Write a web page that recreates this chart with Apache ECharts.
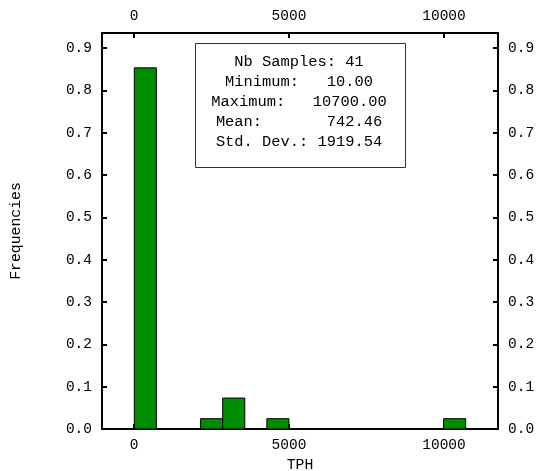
<!DOCTYPE html>
<html>
<head>
<meta charset="utf-8">
<script src="https://cdn.jsdelivr.net/npm/echarts@6/dist/echarts.min.js"></script>
<style>
  html, body { margin: 0; padding: 0; background: #fff; }
  #chart { width: 536px; height: 471px; }
</style>
</head>
<body>
<div id="chart"></div>
<script>
// Histogram of TPH values: 15 equal-width bins between the sample min and max
const sampleCount = 41;
const sampleMin = 10.0;
const sampleMax = 10700.0;
const sampleMean = 742.46;
const sampleStdDev = 1919.54;
const binCounts = [35, 0, 0, 1, 3, 0, 1, 0, 0, 0, 0, 0, 0, 0, 1];
const xTicks = [0, 5000, 10000];
const yTicks = [0, 0.1, 0.2, 0.3, 0.4, 0.5, 0.6, 0.7, 0.8, 0.9];

const binWidth = (sampleMax - sampleMin) / binCounts.length;
const bins = [];
binCounts.forEach((c, i) => {
  if (c > 0) {
    bins.push([sampleMin + i * binWidth, sampleMin + (i + 1) * binWidth, c / sampleCount]);
  }
});

const FONT = 'Liberation Mono';
const axisLine = { show: true, onZero: false, lineStyle: { color: '#000', width: 2 } };
const axisTick = { show: true, inside: true, length: 5, lineStyle: { color: '#000', width: 2 } };

function xAxisDef(pos, extra) {
  return Object.assign({
    type: 'value', position: pos, min: -1032, max: 11742,
    axisLine: axisLine,
    axisTick: Object.assign({ customValues: xTicks }, axisTick),
    axisLabel: { customValues: xTicks, color: '#000', fontFamily: FONT, fontSize: 14.5, margin: 9,
                 formatter: v => String(v) },
    splitLine: { show: false }
  }, extra || {});
}
function yAxisDef(pos, extra) {
  return Object.assign({
    type: 'value', position: pos, min: 0, max: 0.936,
    axisLine: axisLine,
    axisTick: Object.assign({ customValues: yTicks }, axisTick),
    axisLabel: { customValues: yTicks, color: '#000', fontFamily: FONT, fontSize: 14.5, margin: 10,
                 formatter: v => v.toFixed(1) },
    splitLine: { show: false }
  }, extra || {});
}

const statLines = [
  'Nb Samples: ' + sampleCount,
  'Minimum:   ' + sampleMin.toFixed(2),
  'Maximum:   ' + sampleMax.toFixed(2),
  'Mean:       ' + sampleMean.toFixed(2),
  'Std. Dev.: ' + sampleStdDev.toFixed(2)
];

const chart = echarts.init(document.getElementById('chart'), null, { renderer: 'canvas' });
chart.setOption({
  animation: false,
  backgroundColor: '#fff',
  grid: { left: 102, right: 38, top: 33, bottom: 42, containLabel: false, outerBoundsMode: 'none' },
  xAxis: [
    xAxisDef('bottom', { name: 'TPH', nameLocation: 'middle', nameGap: 29,
      nameTextStyle: { color: '#000', fontFamily: FONT, fontSize: 14.8 } }),
    xAxisDef('top')
  ],
  yAxis: [
    yAxisDef('left', { name: 'Frequencies', nameLocation: 'middle', nameGap: 78,
      nameTextStyle: { color: '#000', fontFamily: FONT, fontSize: 14.8 } }),
    yAxisDef('right')
  ],
  series: [{
    type: 'custom',
    xAxisIndex: 0, yAxisIndex: 0,
    data: bins,
    encode: { x: [0, 1], y: 2 },
    renderItem: function (params, api) {
      const p0 = api.coord([api.value(0), api.value(2)]);
      const p1 = api.coord([api.value(1), 0]);
      return {
        type: 'rect',
        shape: { x: p0[0], y: p0[1], width: p1[0] - p0[0], height: p1[1] - p0[1] },
        style: { fill: '#008c00', stroke: '#000', lineWidth: 1 }
      };
    }
  }],
  graphic: [
    { type: 'rect', left: 195, top: 43, z: 100,
      shape: { width: 210, height: 124 },
      style: { fill: '#fff', stroke: '#333', lineWidth: 1 } }
  ].concat(statLines.map((t, i) => ({
    type: 'text', z: 101,
    x: 299, y: 62 + i * 20,
    style: { text: t, fill: '#000', font: '15.4px "Liberation Mono"', align: 'center', verticalAlign: 'middle' }
  })))
});
</script>
</body>
</html>
